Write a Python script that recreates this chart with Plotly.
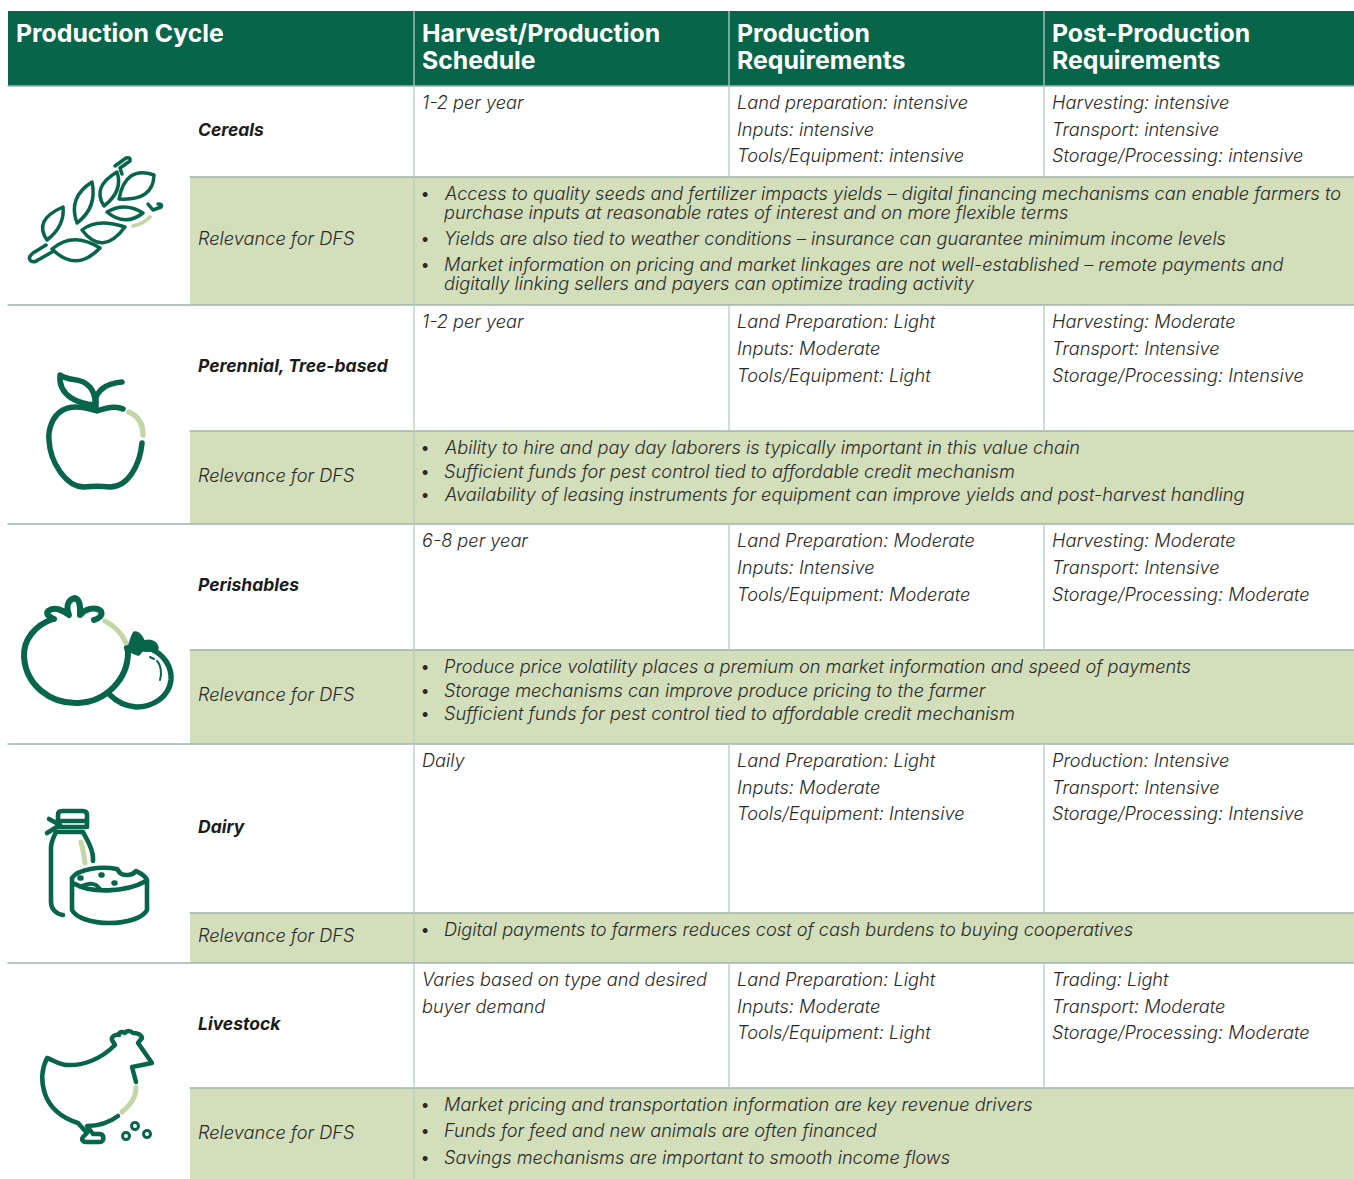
import plotly.graph_objects as go

# ---------- content ----------
HEADERS = [["Production Cycle"],
           ["Harvest/Production", "Schedule"],
           ["Production", "Requirements"],
           ["Post-Production", "Requirements"]]
CYCLES = ["Cereals", "Perennial, Tree-based", "Perishables", "Dairy", "Livestock"]
RELEVANCE_LABEL = "Relevance for DFS"
SCHEDULE = [["1-2 per year"], ["1-2 per year"], ["6-8 per year"], ["Daily"],
            ["Varies based on type and desired", "buyer demand"]]
PRODUCTION = [
    ["Land preparation: intensive", "Inputs: intensive", "Tools/Equipment: intensive"],
    ["Land Preparation: Light", "Inputs: Moderate", "Tools/Equipment: Light"],
    ["Land Preparation: Moderate", "Inputs: Intensive", "Tools/Equipment: Moderate"],
    ["Land Preparation: Light", "Inputs: Moderate", "Tools/Equipment: Intensive"],
    ["Land Preparation: Light", "Inputs: Moderate", "Tools/Equipment: Light"],
]
POST_PRODUCTION = [
    ["Harvesting: intensive", "Transport: intensive", "Storage/Processing: intensive"],
    ["Harvesting: Moderate", "Transport: Intensive", "Storage/Processing: Intensive"],
    ["Harvesting: Moderate", "Transport: Intensive", "Storage/Processing: Moderate"],
    ["Production: Intensive", "Transport: Intensive", "Storage/Processing: Intensive"],
    ["Trading: Light", "Transport: Moderate", "Storage/Processing: Moderate"],
]
BULLETS = [
    [["Access to quality seeds and fertilizer impacts yields – digital financing mechanisms can enable farmers to",
      "purchase inputs at reasonable rates of interest and on more flexible terms"],
     ["Yields are also tied to weather conditions – insurance can guarantee minimum income levels"],
     ["Market information on pricing and market linkages are not well-established – remote payments and",
      "digitally linking sellers and payers can optimize trading activity"]],
    [["Ability to hire and pay day laborers is typically important in this value chain"],
     ["Sufficient funds for pest control tied to affordable credit mechanism"],
     ["Availability of leasing instruments for equipment can improve yields and post-harvest handling"]],
    [["Produce price volatility places a premium on market information and speed of payments"],
     ["Storage mechanisms can improve produce pricing to the farmer"],
     ["Sufficient funds for pest control tied to affordable credit mechanism"]],
    [["Digital payments to farmers reduces cost of cash burdens to buying cooperatives"]],
    [["Market pricing and transportation information are key revenue drivers"],
     ["Funds for feed and new animals are often financed"],
     ["Savings mechanisms are important to smooth income flows"]],
]

# ---------- layout ----------
W, H = 1354, 1179
LEFT, LABEL_X, COL1, COL2, COL3 = 8, 190, 414, 729, 1044
HEAD_TOP, HEAD_BOT = 11, 86
WHITE_TOP = [86, 305, 524, 744, 963]
GREEN_TOP = [177, 431, 650, 913, 1088]
GREEN_BOT = [305, 524, 744, 963, 1179]
LABEL_Y = [129, 365, 584, 826, 1023]
REL_Y = [238, 475, 694, 935, 1132]
LINE_OFFS = [[16, 43, 69], [16, 43, 70], [16, 43, 70], [16, 43, 69], [16, 43, 69]]
BULLET_Y = [[[193, 212], [238], [264, 283]],
            [[447], [471], [494]],
            [[666], [690], [713]],
            [[929]],
            [[1104], [1130], [1157]]]
HEAD_Y = [33, 60]
PAD = 6
BULLET_X, BULLET_TEXT_X = 418, 442

DARK, GREEN, PALE, RULE, SEP, INK = "#07654A", "#D3DEBB", "#C5D6A6", "#9DB5A9", "#B9CAC2", "#2A2A2A"
FONT = "Inter"
BODY, LABEL_SIZE, HEAD_SIZE = 18.2, 17.5, 24.8

fig = go.Figure()
shapes, notes = [], []

def rect(x0, y0, x1, y1, fill):
    shapes.append(dict(type="rect", x0=x0, y0=y0, x1=x1, y1=y1, fillcolor=fill, line_width=0, layer="below"))

def seg(x0, y0, x1, y1, color, w=1.3):
    shapes.append(dict(type="line", x0=x0, y0=y0, x1=x1, y1=y1, line=dict(color=color, width=w), layer="below"))

def text(x, y, s, size=BODY, color=INK, weight=300, style="italic"):
    notes.append(dict(x=x, y=y, text=s, showarrow=False, xanchor="left", yanchor="middle", align="left",
                      font=dict(family=FONT, size=size, color=color, weight=weight, style=style)))

rect(LEFT, HEAD_TOP, W, HEAD_BOT, DARK)
for i, g in enumerate(GREEN_TOP):
    rect(LABEL_X, g, W, GREEN_BOT[i], GREEN)
    seg(LABEL_X, g, W, g, RULE)
    if i < 4:
        seg(LEFT, GREEN_BOT[i], W, GREEN_BOT[i], RULE)
    seg(COL2, WHITE_TOP[i], COL2, g, SEP)
    seg(COL3, WHITE_TOP[i], COL3, g, SEP)
seg(LEFT, HEAD_BOT, W, HEAD_BOT, RULE)
seg(COL1, HEAD_TOP, COL1, H, SEP)
seg(COL2, HEAD_TOP, COL2, HEAD_BOT, SEP)
seg(COL3, HEAD_TOP, COL3, HEAD_BOT, SEP)

for x, lines in zip([LEFT + 6, COL1 + PAD, COL2 + PAD, COL3 + PAD], HEADERS):
    for y, s in zip(HEAD_Y, lines):
        text(x, y, s, size=HEAD_SIZE, color="#FFFFFF", weight=700, style="normal")

for i in range(5):
    text(LABEL_X + PAD, LABEL_Y[i], CYCLES[i], size=LABEL_SIZE, weight=700, color="#1C1C1C")
    text(LABEL_X + PAD, REL_Y[i], RELEVANCE_LABEL)
    for x, column in zip([COL1 + PAD, COL2 + PAD, COL3 + PAD], [SCHEDULE, PRODUCTION, POST_PRODUCTION]):
        for off, s in zip(LINE_OFFS[i], column[i]):
            text(x, WHITE_TOP[i] + off, s)
    for bullet, ys in zip(BULLETS[i], BULLET_Y[i]):
        text(BULLET_X, ys[0], "•", style="normal")
        for y, s in zip(ys, bullet):
            text(BULLET_TEXT_X, y, s)

# ---------- icons (decorative outlines) ----------
def path(d, color=DARK, w=5, fill=None):
    shapes.append(dict(type="path", path=d, line=dict(color=color, width=w),
                       fillcolor=fill or "rgba(0,0,0,0)", layer="above"))

# wheat
for d in ["M46,245 L33,253 Q27,258 31,261 Q34,263 38,260 L52,252",
          "M52,249 Q73,231 100,248 Q76,273 52,249 Z",
          "M82,230 Q96.5,217.5 125,227 Q102.5,257 82,230 Z",
          "M107,212 Q125,201.5 143,213 Q125,227 107,212 Z",
          "M47,240 Q33,220 63,207 Q65,226 47,240 Z",
          "M77,223 Q67.5,197.5 92,182 Q97.5,207.5 77,223 Z",
          "M104,206 Q91.5,187 117,172 Q123.5,191 104,206 Z",
          "M119,199 Q125.5,165 154,175 Q153.5,201 119,199 Z",
          "M115,166 L126,158 Q131,157 130,161 L120,168 L122,174",
          "M148,204 L153,210 L161,207 Q163,204 158,204"]:
    path(d, w=3.5)
path("M133,226 Q143,224 150,217", PALE, 3.8)

# apple
path("M123,409 C115,405 105,408 97,411 C85,407 72,405 63,410 C52,416 48,430 49,440 C50,462 66,487 84,487 C92,486 102,486 110,487 C128,487 140,465 142,443", w=5.5)
path("M129,412 C138,416 143,424 143,435", PALE, 5.5)
path("M60,375 C68,381 78,378 85,383 C93,388 96,397 95,405 C80,404 58,397 60,375 Z", w=5.5)
path("M96,410 L96,397 C100,388 110,383 122,382", w=5.5)

# tomatoes
path("M53,619 C35,625 23,640 24,657 C26,685 50,704 78,703 C105,702 128,680 128,652 L127,648", w=6)
path("M54,619 C48,617 46,613 48,611 C54,606 63,610 69,615 C66,607 67,600 75,598 C81,600 80,608 80,615 C85,609 95,606 101,611 C103,616 98,619 94,620", w=6)
path("M105,621 C115,626 122,634 126,643", PALE)
path("M151,649 C165,655 172,668 171,680 C169,697 153,707 136,707 C124,706 116,701 110,695", w=5.5)
path("M128,650 C131,650 131,641 135,634 C139,634 142,640 143,644 C148,641 155,642 156,648 C150,650 146,649 141,649 L138,653 L133,651", w=5.5, fill=DARK)
path("M157,661 C161,665 162,674 160,680", w=2)
path("M150,657 L154,659", w=2)

# dairy
path("M62,811 L83,811 Q87,811 87,815 L87,827 L58,827 L58,815 Q58,811 62,811 Z", w=4.6)
path("M60,821 L86,821", w=4.6)
path("M56,832 L83,832 C87,840 93,848 93,858 L93,861 M56,832 C53,838 51,842 51,848 L51,902 C51,909 56,914 63,915", w=4.6)
path("M49,819 L60,825 M47,833 L60,825", w=4.6)
path("M81,842 C83,848 84,856 85,863", PALE, 5)
path("M72,878 L72,910 C76,918 92,923 109,923 C127,923 143,918 147,910 L147,880 C145,875 140,873 136,871 C132,876 124,876 120,873 L117,869 C100,866 78,869 72,878 Z", w=4.6)
path("M75,884 C90,893 125,893 146,881", w=4.6)
path("M82,886 C86,884 92,883 96,885 C98,887 99,888 100,889", w=4)
path("M101,875 L102,875 M114,883 L115,883 M80,878 L81,878", w=5.5)

# hen
path("M136,1082 L132,1067 L152,1063 L138,1043 L142,1038 C141,1034 137,1033 133,1033 C131,1031 127,1030 125,1033 C122,1031 119,1032 119,1035 C115,1034 111,1037 112,1040 L115,1045 C100,1060 82,1066 67,1065 C60,1065 53,1060 47,1058 C41,1070 41,1082 45,1094 C50,1108 62,1118 78,1123 L87,1133 L83,1137 C81,1140 83,1142 86,1142 L100,1142 C104,1142 105,1135 100,1134 L93,1134 L87,1126 C100,1126 110,1122 118,1116", w=4.5)
path("M136,1087 C136,1098 130,1105 122,1112", PALE, 5)
for cx, cy in [(126, 1136), (135, 1126), (147, 1134)]:
    path(f"M{cx-3.5},{cy} C{cx-3.5},{cy-4.6} {cx+3.5},{cy-4.6} {cx+3.5},{cy} C{cx+3.5},{cy+4.6} {cx-3.5},{cy+4.6} {cx-3.5},{cy} Z", w=3)

fig.update_layout(
    width=W, height=H, margin=dict(l=0, r=0, t=0, b=0),
    paper_bgcolor="white", plot_bgcolor="white", showlegend=False,
    xaxis=dict(range=[0, W], visible=False, fixedrange=True),
    yaxis=dict(range=[H, 0], visible=False, fixedrange=True),
    shapes=shapes, annotations=notes,
)
POST = """
document.body.style.margin='0';
document.querySelectorAll('.shapelayer path').forEach(function(p){
  p.style.strokeLinecap='round'; p.style.strokeLinejoin='round';
});
"""
fig.write_html("out.html", config=dict(displayModeBar=False), post_script=POST)
